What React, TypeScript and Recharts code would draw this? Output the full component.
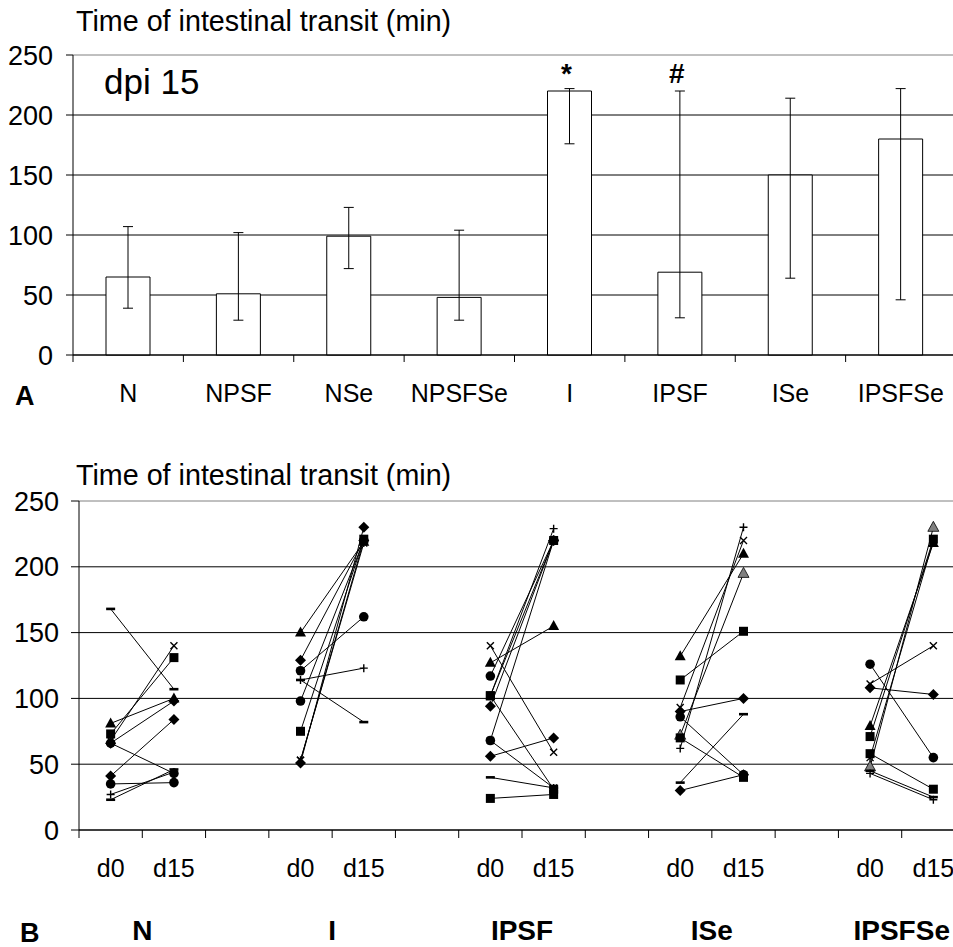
import React from "react";
import {
  BarChart,
  Bar,
  ErrorBar,
  LabelList,
  LineChart,
  Line,
  XAxis,
  YAxis,
  CartesianGrid,
} from "recharts";

const FONT = "'Liberation Sans', Arial, Helvetica, sans-serif";

// ---- Panel A: mean transit time at dpi 15 ----
const GROUPS_A = ["N", "NPSF", "NSe", "NPSFSe", "I", "IPSF", "ISe", "IPSFSe"];
const MEAN_A = [65, 51, 99, 48, 220, 69, 150, 180];
const LOW_A = [39, 29, 72, 29, 176, 31, 64, 46];
const HIGH_A = [107, 102, 123, 104, 222, 220, 214, 222];
const SIG_A = ["", "", "", "", "*", "#", "", ""];
const Y_TICKS = [0, 50, 100, 150, 200, 250];

// ---- Panel B: individual animals, d0 vs d15 ----
const GROUPS_B = ["N", "I", "IPSF", "ISe", "IPSFSe"];
const DAYS = ["d0", "d15"];

const N_D0 = [41, 73, 81, 68, 66, 35, 27, 23, 168, 66];
const N_D15 = [84, 131, 100, 140, 43, 36, 44, 46, 107, 98];
const N_MARK = ["diamond", "square", "triangle", "x", "circle", "circle", "plus", "dash", "dash", "diamond"];

const I_D0 = [150, 129, 121, 114, 114, 98, 75, 53, 51, 53];
const I_D15 = [219, 220, 162, 123, 82, 220, 221, 220, 230, 218];
const I_MARK = ["triangle", "diamond", "circle", "plus", "dash", "circle", "square", "x", "diamond", "star"];

const IPSF_D0 = [140, 127, 117, 102, 102, 94, 68, 68, 102, 56, 40, 24];
const IPSF_D15 = [59, 155, 220, 220, 229, 220, 220, 32, 31, 70, 32, 27];
const IPSF_MARK = ["x", "triangle", "circle", "square", "plus", "diamond", "circle", "star", "square", "diamond", "dash", "square"];

const ISE_D0 = [132, 114, 93, 90, 86, 72, 70, 62, 36, 30];
const ISE_D15 = [210, 151, 220, 100, 42, 195, 40, 230, 88, 42];
const ISE_MARK = ["triangle", "square", "x", "diamond", "circle", "triangleGray", "square", "plus", "dash", "diamond"];

const IPSFSE_D0 = [126, 111, 108, 79, 71, 58, 55, 48, 45, 43];
const IPSFSE_D15 = [55, 140, 103, 218, 221, 31, 220, 230, 25, 23];
const IPSFSE_MARK = ["circle", "x", "diamond", "triangle", "square", "square", "star", "triangleGray", "dash", "plus"];

const D0_B = [N_D0, I_D0, IPSF_D0, ISE_D0, IPSFSE_D0];
const D15_B = [N_D15, I_D15, IPSF_D15, ISE_D15, IPSFSE_D15];
const MARK_B = [N_MARK, I_MARK, IPSF_MARK, ISE_MARK, IPSFSE_MARK];

// layout
const A_W = 960;
const A_H = 420;
const A_MARGIN = { top: 55, right: 4, bottom: 15, left: 0 };
const A_YW = 73;
const A_BAND = (A_W - A_MARGIN.left - A_MARGIN.right - A_YW) / GROUPS_A.length;

const B_TOP = 440;
const B_W = 970;
const B_H = 507;
const B_MARGIN = { top: 61, right: 5, bottom: 7, left: 0 };
const B_YW = 79;

const barData = GROUPS_A.map((g, i) => ({
  name: g,
  mean: MEAN_A[i],
  err: [MEAN_A[i] - LOW_A[i], HIGH_A[i] - MEAN_A[i]],
  sig: SIG_A[i],
}));

const series = GROUPS_B.flatMap((g, gi) =>
  D0_B[gi].map((v, i) => ({
    key: `${g}_${i}`,
    group: gi,
    d0: v,
    d15: D15_B[gi][i],
    mark: MARK_B[gi][i],
  }))
);

const lineData: any[] = [];
GROUPS_B.forEach((g, gi) => {
  DAYS.forEach((d, di) => {
    const row: any = { cat: `${g}-${d}`, label: d, group: di === 0 ? g : "" };
    series
      .filter((s) => s.group === gi)
      .forEach((s) => {
        row[s.key] = di === 0 ? s.d0 : s.d15;
      });
    lineData.push(row);
  });
  if (gi < GROUPS_B.length - 1) lineData.push({ cat: `${g}-gap`, label: "", group: "" });
});

const B_BAND = (B_W - B_MARGIN.left - B_MARGIN.right - B_YW) / lineData.length;

function TickA(props: any) {
  const { x, y, payload } = props;
  return (
    <g>
      <line x1={x - A_BAND / 2} x2={x - A_BAND / 2} y1={y} y2={y + 7} stroke="#000" />
      <text x={x} y={y + 47} textAnchor="middle" fontSize={25} fill="#000">
        {payload.value}
      </text>
    </g>
  );
}

function TickB(props: any) {
  const { x, y, index } = props;
  const row = lineData[index] || {};
  return (
    <g>
      <line x1={x - B_BAND / 2} x2={x - B_BAND / 2} y1={y} y2={y + 8} stroke="#000" />
      <text x={x} y={y + 47} textAnchor="middle" fontSize={25} fill="#000">
        {row.label}
      </text>
      {row.group ? (
        <text x={x + B_BAND / 2} y={y + 110} textAnchor="middle" fontSize={28} fontWeight="bold" fill="#000">
          {row.group}
        </text>
      ) : null}
    </g>
  );
}

function gridLine(props: any) {
  const { x1, x2, y1, y2, index } = props;
  const top = Math.abs(y1 - A_MARGIN.top) < 1 || Math.abs(y1 - B_MARGIN.top) < 1;
  return <line key={`g-${index}`} x1={x1} x2={x2} y1={y1} y2={y2} stroke={top ? "#808080" : "#000"} strokeWidth={1} />;
}

function SigLabel(props: any) {
  const { x, width, value } = props;
  if (!value) return null;
  return (
    <text x={x + width / 2 - 3} y={A_MARGIN.top + 28} textAnchor="middle" fontSize={28} fontWeight="bold" fill="#000">
      {value}
    </text>
  );
}

function Marker({ cx, cy, kind }: { cx: number; cy: number; kind: string }) {
  switch (kind) {
    case "square":
      return <rect x={cx - 4.5} y={cy - 4.5} width={9} height={9} fill="#000" />;
    case "circle":
      return <circle cx={cx} cy={cy} r={4.8} fill="#000" />;
    case "triangle":
      return <polygon points={`${cx},${cy - 6} ${cx + 5.5},${cy + 4} ${cx - 5.5},${cy + 4}`} fill="#000" />;
    case "triangleGray":
      return (
        <polygon
          points={`${cx},${cy - 6} ${cx + 5.5},${cy + 4} ${cx - 5.5},${cy + 4}`}
          fill="#808080"
          stroke="#000"
          strokeWidth={0.8}
        />
      );
    case "diamond":
      return <polygon points={`${cx},${cy - 5.5} ${cx + 5.5},${cy} ${cx},${cy + 5.5} ${cx - 5.5},${cy}`} fill="#000" />;
    case "x":
      return (
        <path
          d={`M${cx - 3.5},${cy - 3.5}L${cx + 3.5},${cy + 3.5}M${cx + 3.5},${cy - 3.5}L${cx - 3.5},${cy + 3.5}`}
          stroke="#000"
          strokeWidth={1.4}
        />
      );
    case "star":
      return (
        <path
          d={`M${cx - 3.5},${cy - 3.5}L${cx + 3.5},${cy + 3.5}M${cx + 3.5},${cy - 3.5}L${cx - 3.5},${cy + 3.5}M${cx},${cy - 4}L${cx},${cy + 4}`}
          stroke="#000"
          strokeWidth={1.4}
        />
      );
    case "plus":
      return (
        <path d={`M${cx - 4},${cy}L${cx + 4},${cy}M${cx},${cy - 4}L${cx},${cy + 4}`} stroke="#000" strokeWidth={1.4} />
      );
    case "dash":
      return <rect x={cx - 4.5} y={cy - 1.3} width={9} height={2.6} fill="#000" />;
    default:
      return null;
  }
}

function makeDot(kind: string, id: string) {
  return (p: any) => {
    const k = `${id}-${p.index}`;
    if (p.cx == null || p.cy == null || p.value == null || Number.isNaN(p.cy)) return <g key={k} />;
    return (
      <g key={k}>
        <Marker cx={p.cx} cy={p.cy} kind={kind} />
      </g>
    );
  };
}

export default function App() {
  return (
    <div
      style={{
        position: "absolute",
        left: 0,
        top: 0,
        width: 953,
        height: 947,
        overflow: "hidden",
        background: "#fff",
        fontFamily: FONT,
      }}
    >
      <div style={{ position: "absolute", left: 0, top: 0 }}>
        <BarChart width={A_W} height={A_H} data={barData} margin={A_MARGIN}>
          <CartesianGrid vertical={false} horizontal={gridLine} />
          <XAxis
            dataKey="name"
            interval={0}
            height={50}
            stroke="#000"
            tickLine={false}
            tickSize={0}
            tickMargin={0}
            tick={(p: any) => <TickA {...p} />}
          />
          <YAxis
            width={A_YW}
            domain={[0, 250]}
            ticks={Y_TICKS}
            interval={0}
            stroke="#000"
            tickSize={7}
            tickMargin={13}
            tick={{ fill: "#000", fontSize: 27 }}
          />
          <Bar dataKey="mean" fill="#fff" stroke="#000" strokeWidth={1} barSize={44} isAnimationActive={false}>
            <ErrorBar dataKey="err" direction="y" width={5} stroke="#000" strokeWidth={1} />
            <LabelList dataKey="sig" content={SigLabel} />
          </Bar>
        </BarChart>
      </div>

      <div style={{ position: "absolute", left: 0, top: B_TOP }}>
        <LineChart width={B_W} height={B_H} data={lineData} margin={B_MARGIN}>
          <CartesianGrid vertical={false} horizontal={gridLine} />
          <XAxis
            dataKey="cat"
            scale="band"
            interval={0}
            height={110}
            stroke="#000"
            tickLine={false}
            tickSize={0}
            tickMargin={0}
            tick={(p: any) => <TickB {...p} />}
          />
          <YAxis
            width={B_YW}
            domain={[0, 250]}
            ticks={Y_TICKS}
            interval={0}
            stroke="#000"
            tickSize={8}
            tickMargin={12}
            tick={{ fill: "#000", fontSize: 27 }}
          />
          {series.map((s) => (
            <Line
              key={s.key}
              dataKey={s.key}
              type="linear"
              stroke="#000"
              strokeWidth={1}
              dot={makeDot(s.mark, s.key)}
              activeDot={false}
              connectNulls={false}
              isAnimationActive={false}
            />
          ))}
        </LineChart>
      </div>

      <svg
        width={953}
        height={947}
        style={{ position: "absolute", left: 0, top: 0, pointerEvents: "none" }}
        fontFamily={FONT}
      >
        <text x={76} y={31} fontSize={28.7} fill="#000">
          Time of intestinal transit (min)
        </text>
        <text x={104} y={94} fontSize={35} fill="#000">
          dpi 15
        </text>
        <text x={15} y={405} fontSize={27} fontWeight="bold" fill="#000">
          A
        </text>
        <text x={76} y={485} fontSize={28.7} fill="#000">
          Time of intestinal transit (min)
        </text>
        <text x={20} y={942} fontSize={27} fontWeight="bold" fill="#000">
          B
        </text>
      </svg>
    </div>
  );
}
